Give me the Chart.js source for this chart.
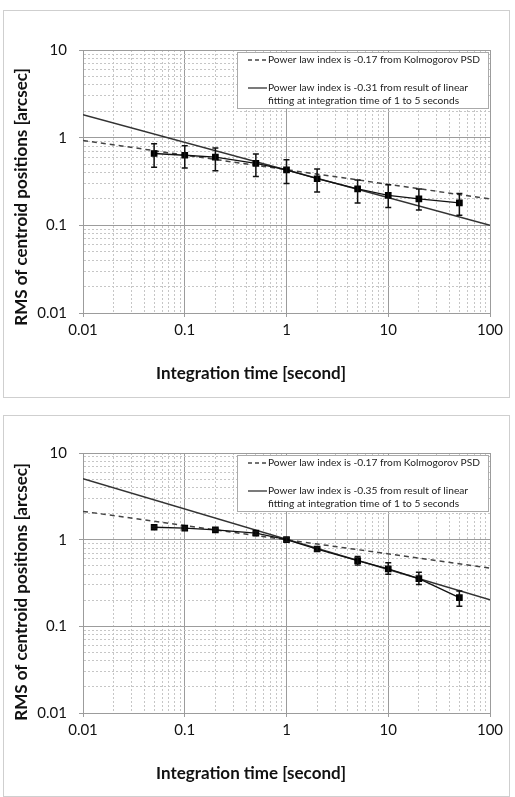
<!DOCTYPE html>
<html>
<head>
<meta charset="utf-8">
<script src="https://cdn.jsdelivr.net/npm/chart.js@4.4.0/dist/chart.umd.min.js"></script>
<style>
  body { margin: 0; background: #fff; width: 515px; height: 797px; position: relative; overflow: hidden; }
  .frame { position: absolute; left: 3px; width: 505px; border: 1px solid #cfcfcf; }
  #frame1 { top: 10px; height: 386px; }
  #frame2 { top: 415px; height: 380px; }
  canvas { position: absolute; left: 0; }
  #chartTop { top: 0; }
  #chartBottom { top: 400px; }
</style>
</head>
<body>
<div class="frame" id="frame1"></div>
<div class="frame" id="frame2"></div>
<canvas id="chartTop" width="515" height="400"></canvas>
<canvas id="chartBottom" width="515" height="397"></canvas>
<script>
// integration times [s]
const timeSec = [0.05, 0.1, 0.2, 0.5, 1, 2, 5, 10, 20, 50];

// upper panel: RMS and error bar ends [arcsec]
const rmsTop = [0.66, 0.63, 0.60, 0.51, 0.43, 0.34, 0.26, 0.22, 0.20, 0.18];
const errHighTop = [0.85, 0.81, 0.76, 0.65, 0.56, 0.44, 0.33, 0.29, 0.26, 0.23];
const errLowTop = [0.46, 0.45, 0.42, 0.36, 0.30, 0.24, 0.18, 0.16, 0.15, 0.13];

// lower panel
const rmsBottom = [1.39, 1.36, 1.30, 1.19, 1.00, 0.78, 0.574, 0.46, 0.356, 0.214];
const errHighBottom = [1.43, 1.40, 1.34, 1.23, 1.05, 0.82, 0.64, 0.54, 0.42, 0.255];
const errLowBottom = [1.35, 1.32, 1.26, 1.15, 0.95, 0.74, 0.51, 0.40, 0.304, 0.171];

// power law lines, ends at 0.01 s and 100 s
const fitTime = [0.01, 100];
const kolmoTop = [0.93, 0.20];
const fitTop = [1.83, 0.10];
const kolmoBottom = [2.12, 0.47];
const fitBottom = [5.06, 0.203];

const xDecades = [0.01, 0.1, 1, 10, 100];
const yDecades = [0.01, 0.1, 1, 10];

const kolmoLabel = ['Power law index is -0.17 from Kolmogorov PSD'];
const fitLabelTop = ['Power law index is -0.31 from result of linear', 'fitting at integration time of 1 to 5 seconds'];
const fitLabelBottom = ['Power law index is -0.35 from result of linear', 'fitting at integration time of 1 to 5 seconds'];

const FONT = 'Lato, "Open Sans", sans-serif';

function isDecade(v) {
  if (!v) return false;
  const l = Math.log10(v);
  return Math.abs(l - Math.round(l)) < 1e-6;
}

function logTicks(decades) {
  return function (scale) {
    const t = [];
    decades.forEach((d, i) => {
      if (i === decades.length - 1) { t.push({ value: d }); return; }
      for (let k = 1; k < 10; k++) t.push({ value: +(d * k).toPrecision(3) });
    });
    scale.ticks = t;
  };
}

const errorBars = {
  id: 'errorBars',
  afterDatasetsDraw(chart) {
    const { ctx, scales: { x, y } } = chart;
    chart.data.datasets.forEach(ds => {
      if (!ds.errLow) return;
      ctx.save();
      ctx.strokeStyle = '#111';
      ctx.lineWidth = 1.5;
      ds.data.forEach((p, j) => {
        const px = x.getPixelForValue(p.x);
        const top = y.getPixelForValue(ds.errHigh[j]);
        const bot = y.getPixelForValue(ds.errLow[j]);
        ctx.beginPath();
        ctx.moveTo(px, top); ctx.lineTo(px, bot);
        ctx.moveTo(px - 3, top); ctx.lineTo(px + 3, top);
        ctx.moveTo(px - 3, bot); ctx.lineTo(px + 3, bot);
        ctx.stroke();
      });
      ctx.restore();
    });
  }
};

// legend box inside the plot, top right
const boxLegend = {
  id: 'boxLegend',
  afterDraw(chart) {
    const { ctx, chartArea } = chart;
    const right = chartArea.right - 2, left = right - 251;
    const top = chartArea.top + 2, h = 56;
    ctx.save();
    ctx.fillStyle = '#fff';
    ctx.fillRect(left, top, right - left, h);
    ctx.strokeStyle = '#aaa';
    ctx.lineWidth = 1;
    ctx.strokeRect(left + 0.5, top + 0.5, right - left, h);
    ctx.font = '10.2px ' + FONT;
    ctx.textBaseline = 'middle';
    ctx.fillStyle = '#222';
    let yy = chartArea.top + 10;
    chart.data.datasets.forEach(ds => {
      if (!ds.legendLines) return;
      ctx.strokeStyle = ds.borderColor;
      ctx.lineWidth = 1.3;
      ctx.setLineDash(ds.borderDash ? [4, 3] : []);
      ctx.beginPath();
      ctx.moveTo(left + 11, yy); ctx.lineTo(left + 30, yy);
      ctx.stroke();
      ctx.setLineDash([]);
      ds.legendLines.forEach((line, i) => ctx.fillText(line, left + 31, yy + i * 12.5));
      yy += 28;
    });
    ctx.restore();
  }
};

const axisTitles = {
  id: 'axisTitles',
  afterDraw(chart, args, opts) {
    const { ctx } = chart;
    ctx.save();
    ctx.fillStyle = '#111';
    ctx.font = 'bold 17px ' + FONT;
    ctx.textAlign = 'center';
    ctx.textBaseline = 'middle';
    ctx.fillText(opts.x.text, opts.x.cx, opts.x.cy);
    ctx.translate(opts.y.cx, opts.y.cy);
    ctx.rotate(-Math.PI / 2);
    ctx.fillText(opts.y.text, 0, 0);
    ctx.restore();
  }
};

function makeChart(id, rms, errHigh, errLow, kolmo, fit, fitLabel, padTop, xAxisH, yTitleY) {
  const gridColor = c => isDecade(c.tick && c.tick.value) ? '#9c9c9c' : '#c6c6c6';
  const tickColor = c => isDecade(c.tick && c.tick.value) ? '#9c9c9c' : 'rgba(0,0,0,0)';
  const dash = c => (c.tick && !isDecade(c.tick.value)) ? [2, 2] : [];
  new Chart(document.getElementById(id), {
    type: 'line',
    data: {
      datasets: [
        {
          label: 'RMS',
          data: timeSec.map((t, i) => ({ x: t, y: rms[i] })),
          errHigh: errHigh,
          errLow: errLow,
          borderColor: '#111',
          borderWidth: 1.3,
          pointStyle: 'rect',
          pointRadius: 3.8,
          pointBackgroundColor: '#000',
          pointBorderColor: '#000',
          tension: 0
        },
        {
          label: 'Kolmogorov',
          legendLines: kolmoLabel,
          data: fitTime.map((t, i) => ({ x: t, y: kolmo[i] })),
          borderColor: '#444',
          borderWidth: 1.5,
          borderDash: [5, 4],
          pointRadius: 0
        },
        {
          label: 'Fit',
          legendLines: fitLabel,
          data: fitTime.map((t, i) => ({ x: t, y: fit[i] })),
          borderColor: '#333',
          borderWidth: 1.5,
          pointRadius: 0
        }
      ]
    },
    options: {
      responsive: false,
      animation: false,
      layout: { padding: { left: 0, right: 25, top: padTop, bottom: 0 } },
      plugins: {
        legend: { display: false },
        tooltip: { enabled: false },
        axisTitles: {
          x: { text: 'Integration time [second]', cx: 251, cy: 374 },
          y: { text: 'RMS of centroid positions [arcsec]', cx: 22, cy: yTitleY }
        }
      },
      scales: {
        x: {
          type: 'logarithmic',
          min: 0.01,
          max: 100,
          afterBuildTicks: logTicks(xDecades),
          afterFit: s => { s.height = xAxisH; },
          grid: { color: gridColor, tickColor: tickColor, tickLength: 4 },
          border: { color: '#9c9c9c', dash: dash },
          ticks: {
            autoSkip: false,
            maxRotation: 0,
            padding: 4,
            color: '#111',
            font: { family: FONT, size: 15 },
            callback: v => isDecade(v) ? String(v) : ''
          }
        },
        y: {
          type: 'logarithmic',
          min: 0.01,
          max: 10,
          afterBuildTicks: logTicks(yDecades),
          afterFit: s => { s.width = 83; },
          grid: { color: gridColor, tickColor: tickColor, tickLength: 4 },
          border: { color: '#9c9c9c', dash: dash },
          ticks: {
            autoSkip: false,
            padding: 12,
            color: '#111',
            font: { family: FONT, size: 15 },
            callback: v => isDecade(v) ? String(v) : ''
          }
        }
      }
    },
    plugins: [errorBars, boxLegend, axisTitles]
  });
}

makeChart('chartTop', rmsTop, errHighTop, errLowTop, kolmoTop, fitTop, fitLabelTop, 50, 87, 197);
makeChart('chartBottom', rmsBottom, errHighBottom, errLowBottom, kolmoBottom, fitBottom, fitLabelBottom, 53, 84, 192);
</script>
</body>
</html>
